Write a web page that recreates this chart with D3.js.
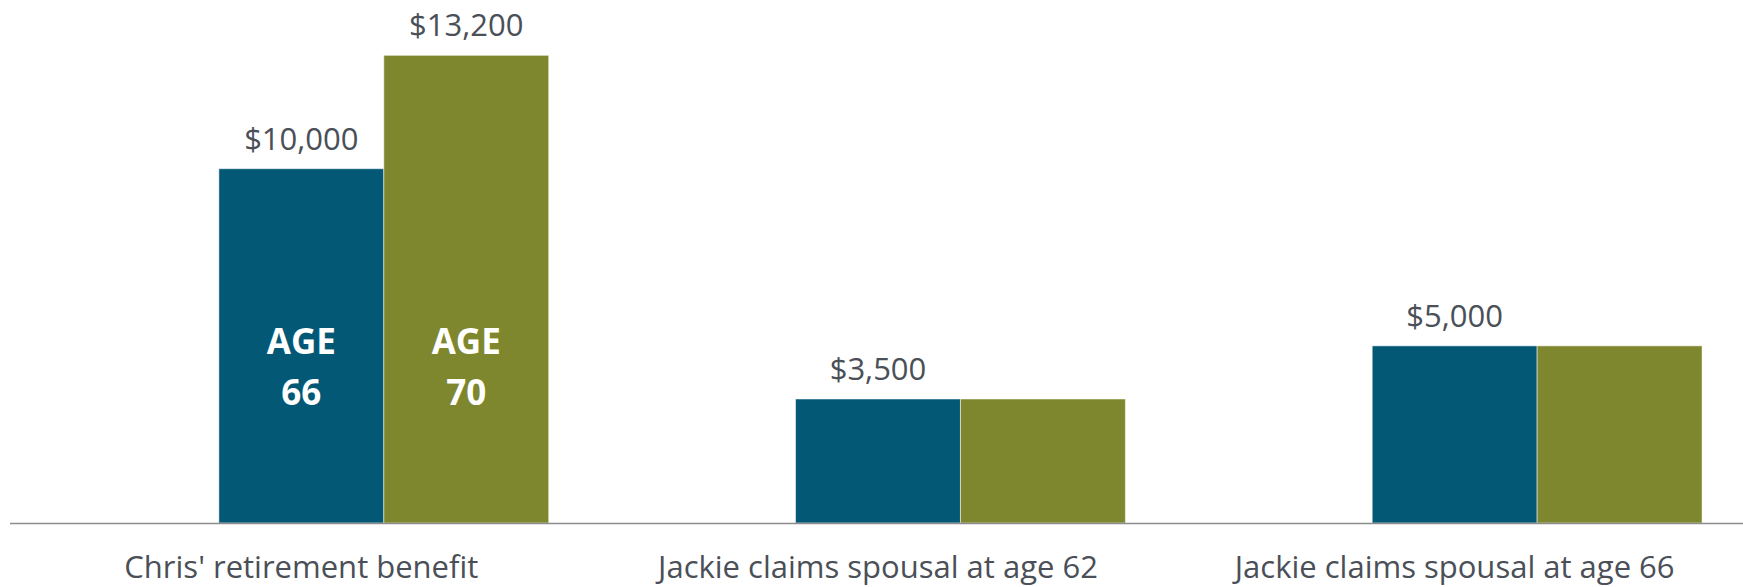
<!DOCTYPE html>
<html>
<head>
<meta charset="utf-8">
<script src="https://cdn.jsdelivr.net/npm/d3@7"></script>
<style>
  html, body { margin: 0; padding: 0; background: #ffffff; }
  svg { display: block; }
  text { font-family: "Open Sans", "Noto Sans", sans-serif; }
</style>
</head>
<body>
<svg id="chart" width="1743" height="587"></svg>
<script>
// Categories along the x axis
const categories = [
  "Chris' retirement benefit",
  "Jackie claims spousal at age 62",
  "Jackie claims spousal at age 66"
];

// Annual benefit for each claiming age
const seriesKeys = ["AGE 66", "AGE 70"];
const age66Values = [10000, 3500, 5000];
const age70Values = [13200, 3500, 5000];

// Which bars carry a value label
const age66Labelled = [true, true, true];
const age70Labelled = [true, false, false];

const seriesColors = ["#035876", "#7f872e"];
const textColor = "#4a4f58";

const width = 1743, height = 587;
const plotLeft = 13, plotRight = 1743;
const plotTop = 27, plotBottom = 523;

const svg = d3.select("#chart");

const x0 = d3.scaleBand()
  .domain(categories)
  .range([plotLeft, plotRight])
  .paddingInner(0.142)
  .paddingOuter(0.071);

// Each cluster keeps an empty leading slot, so the two bars sit right of the category label
const x1 = d3.scaleBand()
  .domain(seriesKeys)
  .range([x0.bandwidth() / 3, x0.bandwidth()]);

const y = d3.scaleLinear()
  .domain([0, 14000])
  .range([plotBottom, plotTop]);

const rows = categories.map((c, i) => ({
  category: c,
  bars: [
    { key: seriesKeys[0], value: age66Values[i], labelled: age66Labelled[i], color: seriesColors[0] },
    { key: seriesKeys[1], value: age70Values[i], labelled: age70Labelled[i], color: seriesColors[1] }
  ]
}));

const groups = svg.append("g")
  .selectAll("g")
  .data(rows)
  .join("g")
  .attr("transform", d => `translate(${x0(d.category)},0)`);

groups.selectAll("rect")
  .data(d => d.bars)
  .join("rect")
  .attr("x", d => x1(d.key))
  .attr("y", d => y(d.value))
  .attr("width", x1.bandwidth())
  .attr("height", d => y(0) - y(d.value))
  .attr("fill", d => d.color)
  .attr("stroke", "#ffffff")
  .attr("stroke-opacity", 0.5)
  .attr("stroke-width", 1);

const fmt = d3.format("$,");

groups.selectAll("text.value")
  .data(d => d.bars.filter(b => b.labelled))
  .join("text")
  .attr("class", "value")
  .attr("x", d => x1(d.key) + x1.bandwidth() / 2)
  .attr("y", d => y(d.value) - 19)
  .attr("text-anchor", "middle")
  .attr("fill", textColor)
  .attr("font-size", 31)
  .text(d => fmt(d.value));

// Claiming-age captions inside the first cluster
const firstRow = rows[0];
const captions = svg.append("g")
  .attr("transform", `translate(${x0(firstRow.category)},0)`)
  .selectAll("text")
  .data(firstRow.bars)
  .join("text")
  .attr("x", d => x1(d.key) + x1.bandwidth() / 2)
  .attr("text-anchor", "middle")
  .attr("fill", "#ffffff")
  .attr("font-weight", 700)
  .attr("font-size", 35);

captions.append("tspan")
  .attr("x", d => x1(d.key) + x1.bandwidth() / 2)
  .attr("y", y(0) - 169)
  .text(d => d.key.split(" ")[0]);
captions.append("tspan")
  .attr("x", d => x1(d.key) + x1.bandwidth() / 2)
  .attr("y", y(0) - 118)
  .text(d => d.key.split(" ")[1]);

// Category axis
const xAxis = svg.append("g")
  .attr("transform", `translate(0,${y(0)})`)
  .call(d3.axisBottom(x0).tickSize(0).tickPadding(0));

xAxis.select(".domain")
  .attr("d", `M10,0.5H${width}`)
  .attr("stroke", "#8c8c8c")
  .attr("stroke-width", 1.3);

xAxis.selectAll(".tick text")
  .attr("y", 55)
  .attr("dy", null)
  .attr("fill", textColor)
  .attr("font-size", 31)
  .attr("font-family", "\"Open Sans\", \"Noto Sans\", sans-serif");
</script>
</body>
</html>
